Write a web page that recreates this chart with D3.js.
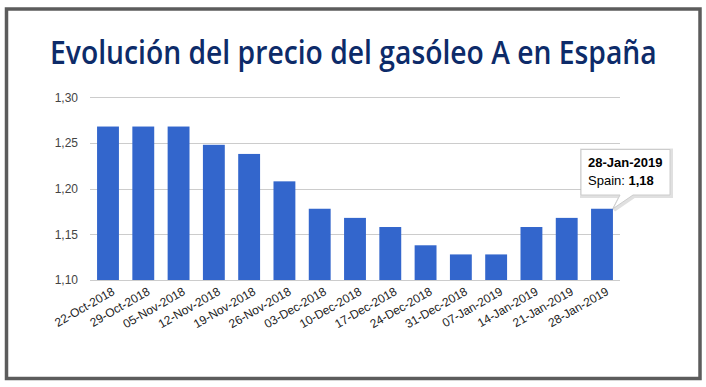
<!DOCTYPE html>
<html><head><meta charset="utf-8">
<script src="https://cdn.jsdelivr.net/npm/d3@7/dist/d3.min.js"></script>
<style>html,body{margin:0;padding:0;background:#fff;}</style>
</head><body>
<svg id="c" width="706" height="387"></svg>
<script>
const title = "Evolución del precio del gasóleo A en España";
const categories = ["22-Oct-2018","29-Oct-2018","05-Nov-2018","12-Nov-2018","19-Nov-2018","26-Nov-2018","03-Dec-2018","10-Dec-2018","17-Dec-2018","24-Dec-2018","31-Dec-2018","07-Jan-2019","14-Jan-2019","21-Jan-2019","28-Jan-2019"];
const values = [1.268,1.268,1.268,1.248,1.238,1.208,1.178,1.168,1.158,1.138,1.128,1.128,1.158,1.168,1.178];
const yTicks = [1.10,1.15,1.20,1.25,1.30];
const seriesName = "Spain";
const tooltipIndex = 14;
const tooltipValue = "1,18";

const svg = d3.select("#c");
svg.append("rect").attr("x",0).attr("y",0).attr("width",706).attr("height",387).attr("fill","#fff");
svg.append("rect").attr("x",6.5).attr("y",9).attr("width",693.5).attr("height",369.5)
  .attr("fill","none").attr("stroke","#5c5c5c").attr("stroke-width",3.5);

const tg = svg.append("g");
const t = tg.append("text").attr("x",0).attr("y",0).attr("fill","#0d2b69")
  .attr("font-family","'Open Sans', Lato, sans-serif").attr("font-weight",600).attr("font-size",33).text(title);
const w = t.node().getComputedTextLength();
tg.attr("transform",`translate(50,64) scale(${607/w},1)`);

const x = d3.scaleBand().domain(categories).range([90,620]).paddingInner(0.38).paddingOuter(0.2);
const y = d3.scaleLinear().domain([1.10,1.30]).range([280,97.3]);
const fmt = v => d3.format(".2f")(v).replace(".",",");

const grid = svg.append("g");
grid.selectAll("line").data(yTicks).join("line")
  .attr("x1",90).attr("x2",620).attr("y1",d=>Math.round(y(d))+0.5).attr("y2",d=>Math.round(y(d))+0.5)
  .attr("stroke","#cccccc").attr("stroke-width",1);

const yAxis = d3.axisLeft(y).tickValues(yTicks).tickFormat(fmt).tickSize(0).tickPadding(0);
const ya = svg.append("g").attr("transform","translate(78,0)").call(yAxis);
ya.select(".domain").remove();
ya.selectAll("text").attr("font-family","Arial, 'Liberation Sans', sans-serif").attr("font-size",12).attr("fill","#444");

svg.append("g").selectAll("rect").data(values).join("rect")
  .attr("x",(d,i)=>x(categories[i])).attr("width",x.bandwidth())
  .attr("y",d=>y(d)).attr("height",d=>y(1.10)-y(d)).attr("fill","#3366cc");

const xa = svg.append("g").attr("transform","translate(0,280)").call(d3.axisBottom(x).tickSize(0).tickPadding(0));
xa.select(".domain").remove();
xa.selectAll("text").attr("font-family","Arial, 'Liberation Sans', sans-serif").attr("font-size",12).attr("fill","#222")
  .attr("text-anchor","end").attr("dy","0.75em").attr("y",0)
  .attr("transform","translate(3,6) rotate(-30)");

// tooltip
const bx = x(categories[tooltipIndex]) + x.bandwidth();
const by = y(values[tooltipIndex]);
const tt = svg.append("g");
const L=581, T=149.5, R=670, B=195;
const path = `M${L},${T} H${R} V${B} H${633} L${bx},${by} L${620},${B} H${L} Z`;
tt.append("path").attr("d",path).attr("fill","none").attr("stroke","rgba(0,0,0,0.12)").attr("stroke-width",4).attr("transform","translate(1,1)");
tt.append("path").attr("d",path).attr("fill","#fff").attr("stroke","#cccccc").attr("stroke-width",1);
tt.append("text").attr("x",588).attr("y",167).attr("font-family","Arial, 'Liberation Sans', sans-serif")
  .attr("font-size",13).attr("font-weight","bold").attr("fill","#000").text(categories[tooltipIndex]);
const t2 = tt.append("text").attr("x",588).attr("y",185).attr("font-family","Arial, 'Liberation Sans', sans-serif")
  .attr("font-size",13).attr("fill","#000");
t2.append("tspan").text(seriesName + ": ");
t2.append("tspan").attr("font-weight","bold").text(tooltipValue);
</script>
</body></html>
